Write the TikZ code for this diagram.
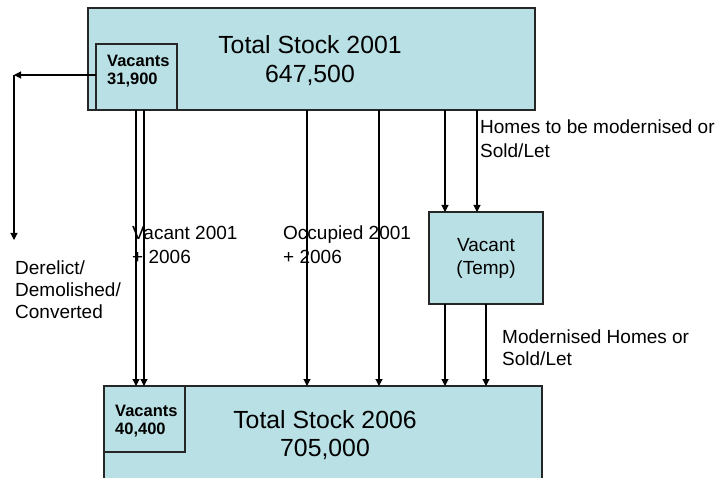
\documentclass[tikz,border=0pt]{standalone}
\usepackage{fontspec}
\setmainfont{Liberation Sans}
\usetikzlibrary{arrows.meta}
\definecolor{boxfill}{RGB}{185,224,228}
\begin{document}
\begin{tikzpicture}[x=1pt,y=-1pt,
  box/.style={draw=black!85, line width=1.1pt, fill=boxfill, inner sep=0pt, outer sep=0pt, anchor=north west},
  flow/.style={draw=black, line width=1.1pt, -{Triangle[length=7pt,width=7pt]}},
  lbl/.style={font=\fontsize{19}{23}\selectfont, anchor=base west, inner sep=0pt},
  big/.style={font=\fontsize{24.8}{29}\selectfont, anchor=base, inner sep=0pt},
  small/.style={font=\bfseries\fontsize{16.5}{18.5}\selectfont, anchor=base west, inner sep=0pt}]
\clip (0,0) rectangle (725,478);
\fill[white] (0,0) rectangle (725,478);
% boxes
\node[box, minimum width=447, minimum height=102] (top) at (88,8) {};
\node[box, minimum width=81, minimum height=66] (vac1) at (96,44) {};
\node[box, minimum width=114, minimum height=92] (temp) at (429,212) {};
\node[box, minimum width=438, minimum height=110] (bot) at (104,386) {};
\node[box, minimum width=81, minimum height=66] (vac2) at (104,386) {};
% texts in boxes
\node[big] (t1a) at (310,54) {Total Stock 2001};
\node[big] (t1b) at (310,83) {647,500};
\node[big] (t2a) at (325,428) {Total Stock 2006};
\node[big] (t2b) at (325,456) {705,000};
\node[small] (v1a) at (107,67) {Vacants};
\node[small] (v1b) at (107,85) {31,900};
\node[small] (v2a) at (115,416) {Vacants};
\node[small] (v2b) at (115,434) {40,400};
\node[lbl, anchor=base] (tpa) at (486,252) {Vacant};
\node[lbl, anchor=base] (tpb) at (486,274) {(Temp)};
% coordinates
\coordinate (xa) at (136,0);
\coordinate (xb) at (144,0);
\coordinate (xc) at (307,0);
\coordinate (xd) at (379,0);
\coordinate (xe) at (445,0);
\coordinate (xf) at (477,0);
\coordinate (xg) at (486,0);
\coordinate (dl) at (14,75);
\coordinate (dd) at (14,240);
% connectors
\draw[flow] (vac1.west |- dl) -- (dl);
\draw[flow] (dl) -- (dd);
\draw[flow] (xa |- top.south) -- (xa |- bot.north);
\draw[flow] (xb |- top.south) -- (xb |- bot.north);
\draw[flow] (xc |- top.south) -- (xc |- bot.north);
\draw[flow] (xd |- top.south) -- (xd |- bot.north);
\draw[flow] (xe |- top.south) -- (xe |- temp.north);
\draw[flow] (xf |- top.south) -- (xf |- temp.north);
\draw[flow] (xe |- temp.south) -- (xe |- bot.north);
\draw[flow] (xg |- temp.south) -- (xg |- bot.north);
% labels
\node[lbl] (la) at (480,134) {Homes to be modernised or};
\node[lbl] (lb) at (480,158) {Sold/Let};
\node[lbl] (lc) at (132,240) {Vacant 2001};
\node[lbl] (ld) at (132,264) {+ 2006};
\node[lbl] (le) at (283,240) {Occupied 2001};
\node[lbl] (lf) at (283,264) {+ 2006};
\node[lbl] (lg) at (15,274) {Derelict/};
\node[lbl] (lh) at (15,296) {Demolished/};
\node[lbl] (li) at (15,318) {Converted};
\node[lbl] (lj) at (502,343) {Modernised Homes or};
\node[lbl] (lk) at (502,365) {Sold/Let};
\end{tikzpicture}
\end{document}
